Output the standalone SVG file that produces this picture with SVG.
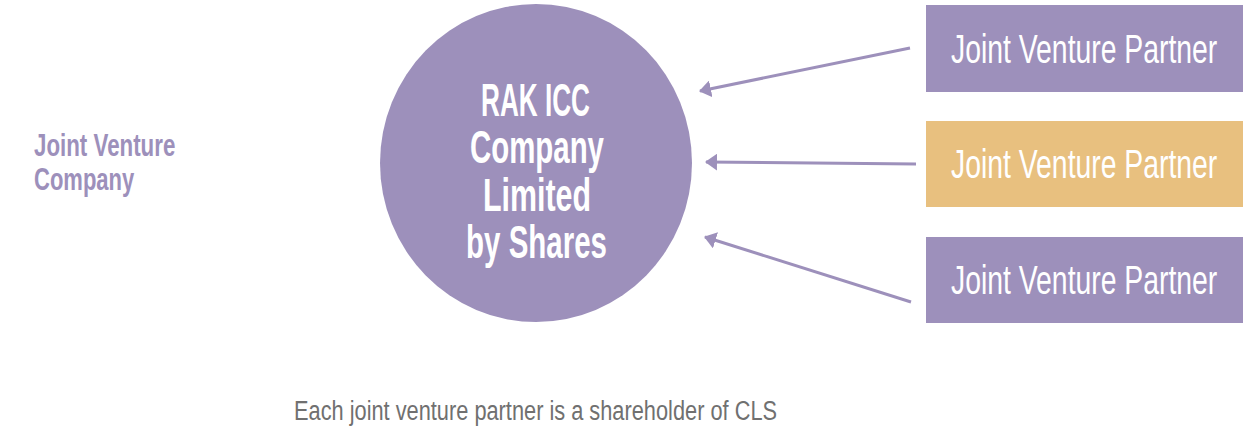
<svg xmlns="http://www.w3.org/2000/svg" width="1243" height="426" viewBox="0 0 1243 426">
<style>
.lbl{font-family:"Liberation Sans","DejaVu Sans",sans-serif;}
.box text{fill:#fff;font-size:40px;}
.circ text{fill:#fff;font-size:46px;font-weight:bold;text-anchor:middle;}
.left text{fill:#9d90bb;font-size:31px;font-weight:bold;}
.conn line{stroke:#9d90bb;stroke-width:3;}
</style>
<defs>
<marker id="ah" viewBox="0 0 12 17" refX="11" refY="8.5" markerWidth="4" markerHeight="5.7" orient="auto" markerUnits="strokeWidth">
<path d="M0,0 L12,8.5 L0,17 Z" fill="#9d90bb"/>
</marker>
</defs>
<rect width="1243" height="426" fill="#fff"/>
<g id="jv-company" class="lbl left">
<text transform="translate(34,156) scale(0.72,1)">Joint Venture</text>
<text transform="translate(34,190) scale(0.71,1)">Company</text>
</g>
<g id="cls" class="lbl circ">
<ellipse cx="536" cy="163" rx="156" ry="159" fill="#9d90bb"/>
<text transform="translate(535.5,116) scale(0.569,1)">RAK ICC</text>
<text transform="translate(537,163) scale(0.639,1)">Company</text>
<text transform="translate(537,211) scale(0.66,1)">Limited</text>
<text transform="translate(536.5,258) scale(0.641,1)">by Shares</text>
</g>
<g id="partner1" class="lbl box">
<rect x="926" y="5" width="317" height="87" fill="#9d90bb"/>
<text transform="translate(951,63) scale(0.709,1)">Joint Venture Partner</text>
</g>
<g id="partner2" class="lbl box">
<rect x="926" y="121" width="317" height="86" fill="#e8c07f"/>
<text transform="translate(951,178) scale(0.709,1)">Joint Venture Partner</text>
</g>
<g id="partner3" class="lbl box">
<rect x="926" y="237" width="317" height="86" fill="#9d90bb"/>
<text transform="translate(951,294) scale(0.709,1)">Joint Venture Partner</text>
</g>
<g id="connectors" class="conn">
<line x1="910" y1="48" x2="700" y2="91" marker-end="url(#ah)"/>
<line x1="916" y1="164" x2="706" y2="162" marker-end="url(#ah)"/>
<line x1="911" y1="302" x2="705" y2="237" marker-end="url(#ah)"/>
</g>
<g id="caption" class="lbl">
<text transform="translate(294,420) scale(0.778,1)" font-size="28" fill="#707070">Each joint venture partner is a shareholder of CLS</text>
</g>
</svg>
